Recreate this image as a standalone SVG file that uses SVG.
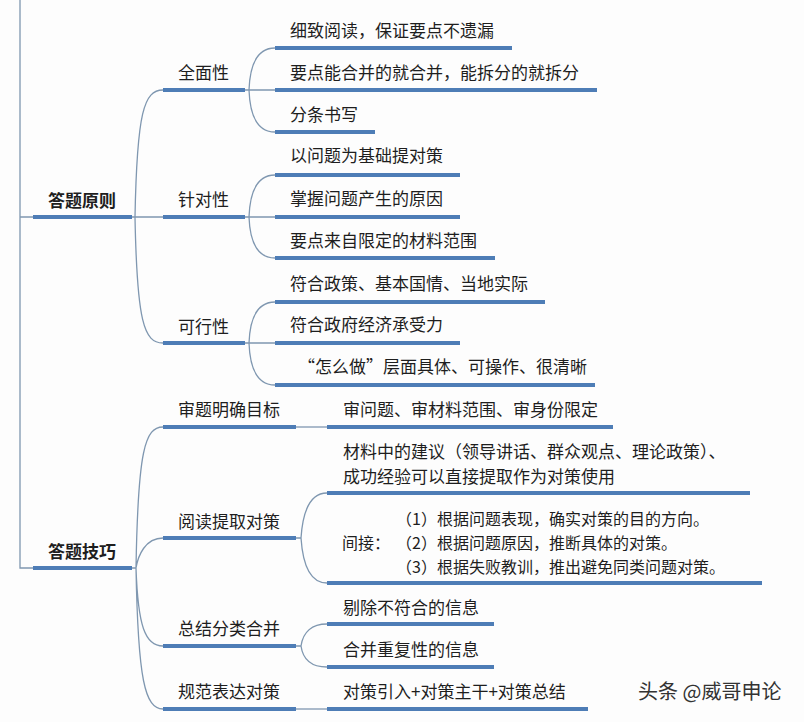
<svg xmlns="http://www.w3.org/2000/svg" width="804" height="722" viewBox="0 0 804 722">
<style>
.t{font-family:"Noto Sans CJK SC","Noto Sans CJK TC",sans-serif;font-size:17px;fill:#1e1e1e}
.s{font-size:16px}
.b{font-weight:bold}
.u{stroke:#4e7db6;stroke-width:4;fill:none}
.c{fill:none;stroke:#7f97b0;stroke-width:1.3}
.w{font-family:"Noto Sans CJK SC",sans-serif;font-size:20px;fill:#333}
</style>
<rect width="804" height="722" fill="#fdfdfd"/>
<g id="connectors">
<path class="c" d="M20,0 V568 H33 M20,217 H33"/>
<path class="c" d="M132,217 H163 M135,217 C137,112 144,90 163,90 M135,217 C137,322 144,343 163,343"/>
<path class="c" d="M245,90 H275 M249,90 C250,118 258,132 275,132 M249,90 C250,62 258,48 275,48"/>
<path class="c" d="M245,217 H275 M249,217 C250,190 258,175 275,175 M249,217 C250,244 258,258 275,258"/>
<path class="c" d="M245,343 H275 M249,343 C250,316 258,302 275,302 M249,343 C250,371 258,385 275,385"/>
<path class="c" d="M132,568 H136 M136,568 C138,450 145,427 163,427 M136,568 C138,556 145,538 163,538 M136,568 C138,626 145,646 163,646 M136,568 C138,680 145,709 163,709"/>
<path class="c" d="M296,427 H327"/>
<path class="c" d="M296,538 H301 M301,538 C303,508 312,493 327,493 M301,538 C303,568 312,583 327,583"/>
<path class="c" d="M296,646 H301 M301,646 C303,632 312,624 327,624 M301,646 C303,660 312,667 327,667"/>
<path class="c" d="M296,709 H327"/>
</g>
<g id="n-yuanze"><line class="u" x1="33" y1="217" x2="132" y2="217"/><text class="t b" x="48" y="207">答题原则</text></g>
<g id="n-jiqiao"><line class="u" x1="33" y1="568" x2="132" y2="568"/><text class="t b" x="48" y="558">答题技巧</text></g>
<g id="n-quanmian"><line class="u" x1="163" y1="90" x2="245" y2="90"/><text class="t" x="178" y="79">全面性</text></g>
<g id="n-zhendui"><line class="u" x1="163" y1="217" x2="245" y2="217"/><text class="t" x="178" y="206">针对性</text></g>
<g id="n-kexing"><line class="u" x1="163" y1="343" x2="245" y2="343"/><text class="t" x="178" y="333">可行性</text></g>
<g id="n-q1"><line class="u" x1="275" y1="48" x2="512" y2="48"/><text class="t" x="290" y="37">细致阅读，保证要点不遗漏</text></g>
<g id="n-q2"><line class="u" x1="275" y1="90" x2="597" y2="90"/><text class="t" x="290" y="79">要点能合并的就合并，能拆分的就拆分</text></g>
<g id="n-q3"><line class="u" x1="275" y1="132" x2="375" y2="132"/><text class="t" x="290" y="121">分条书写</text></g>
<g id="n-z1"><line class="u" x1="275" y1="175" x2="460" y2="175"/><text class="t" x="290" y="162">以问题为基础提对策</text></g>
<g id="n-z2"><line class="u" x1="275" y1="217" x2="460" y2="217"/><text class="t" x="290" y="205">掌握问题产生的原因</text></g>
<g id="n-z3"><line class="u" x1="275" y1="258" x2="495" y2="258"/><text class="t" x="290" y="247">要点来自限定的材料范围</text></g>
<g id="n-k1"><line class="u" x1="275" y1="302" x2="545" y2="302"/><text class="t" x="290" y="290">符合政策、基本国情、当地实际</text></g>
<g id="n-k2"><line class="u" x1="275" y1="343" x2="460" y2="343"/><text class="t" x="290" y="331">符合政府经济承受力</text></g>
<g id="n-k3"><line class="u" x1="275" y1="385" x2="595" y2="385"/><text class="t" x="298" y="373">“怎么做”层面具体、可操作、很清晰</text></g>
<g id="n-shenti"><line class="u" x1="163" y1="427" x2="296" y2="427"/><text class="t" x="178" y="416">审题明确目标</text></g>
<g id="n-yuedu"><line class="u" x1="163" y1="538" x2="296" y2="538"/><text class="t" x="178" y="528">阅读提取对策</text></g>
<g id="n-zongjie"><line class="u" x1="163" y1="646" x2="296" y2="646"/><text class="t" x="178" y="635">总结分类合并</text></g>
<g id="n-guifan"><line class="u" x1="163" y1="709" x2="296" y2="709"/><text class="t" x="178" y="698">规范表达对策</text></g>
<g id="n-s1"><line class="u" x1="327" y1="427" x2="613" y2="427"/><text class="t" x="343" y="416">审问题、审材料范围、审身份限定</text></g>
<g id="n-y1"><line class="u" x1="327" y1="493" x2="750" y2="493"/><text class="t" x="343" y="458">材料中的建议（领导讲话、群众观点、理论政策）、</text><text class="t" x="343" y="483">成功经验可以直接提取作为对策使用</text></g>
<g id="n-y2"><line class="u" x1="327" y1="583" x2="762" y2="583"/><text class="t s" x="342" y="549">间接：</text><text class="t s" x="396" y="525">（1）根据问题表现，确实对策的目的方向。</text><text class="t s" x="396" y="549">（2）根据问题原因，推断具体的对策。</text><text class="t s" x="396" y="573">（3）根据失败教训，推出避免同类问题对策。</text></g>
<g id="n-zj1"><line class="u" x1="327" y1="624" x2="494" y2="624"/><text class="t" x="343" y="614">剔除不符合的信息</text></g>
<g id="n-zj2"><line class="u" x1="327" y1="667" x2="494" y2="667"/><text class="t" x="343" y="656">合并重复性的信息</text></g>
<g id="n-gf1"><line class="u" x1="327" y1="709" x2="588" y2="709"/><text class="t" x="343" y="698">对策引入+对策主干+对策总结</text></g>
<text class="w" x="638" y="699">头条 @威哥申论</text>
</svg>
